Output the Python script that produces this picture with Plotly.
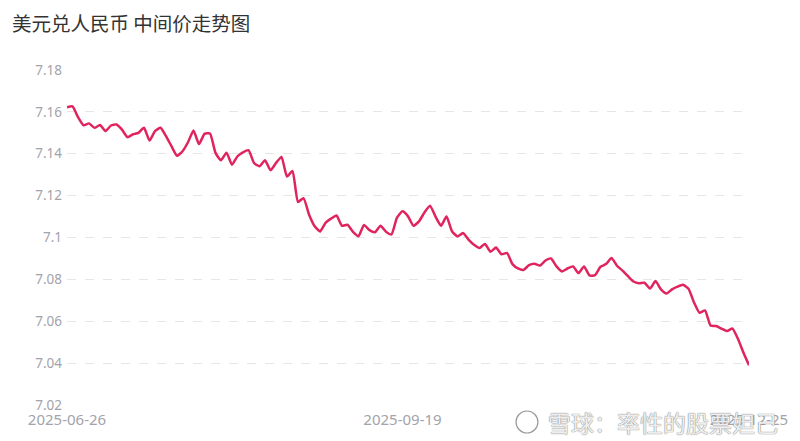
import pandas as pd
import plotly.graph_objects as go

title_text = "美元兑人民币 中间价走势图"
watermark_text = "雪球：率性的股票妲己"

holidays = ["2025-10-01", "2025-10-02", "2025-10-03", "2025-10-06", "2025-10-07", "2025-10-08"]
dates = [d.strftime("%Y-%m-%d") for d in pd.bdate_range("2025-06-26", "2025-12-25")
         if d.strftime("%Y-%m-%d") not in holidays]

rates = [
    7.1622, 7.1626, 7.1575, 7.1536, 7.1545, 7.1524, 7.1537, 7.1508, 7.1535, 7.1540,
    7.1515, 7.1479, 7.1493, 7.1500, 7.1524, 7.1463, 7.1508, 7.1524, 7.1484, 7.1436,
    7.1390, 7.1412, 7.1455, 7.1511, 7.1446, 7.1495, 7.1497, 7.1404, 7.1369, 7.1405,
    7.1348, 7.1388, 7.1407, 7.1417, 7.1356, 7.1340, 7.1369, 7.1321, 7.1356, 7.1385,
    7.1291, 7.1318, 7.1170, 7.1188, 7.1110, 7.1055, 7.1029, 7.1070, 7.1090, 7.1105,
    7.1056, 7.1061, 7.1027, 7.1006, 7.1060, 7.1035, 7.1025, 7.1056, 7.1028, 7.1015,
    7.1095, 7.1125, 7.1101, 7.1056, 7.1077, 7.1120, 7.1152, 7.1100, 7.1056, 7.1100,
    7.1030, 7.1005, 7.1021, 7.0990, 7.0965, 7.0950, 7.0969, 7.0932, 7.0952, 7.0920,
    7.0926, 7.0873, 7.0852, 7.0845, 7.0868, 7.0875, 7.0866, 7.0890, 7.0900, 7.0862,
    7.0838, 7.0852, 7.0862, 7.0830, 7.0862, 7.0819, 7.0820, 7.0860, 7.0873, 7.0902,
    7.0865, 7.0842, 7.0815, 7.0790, 7.0782, 7.0784, 7.0756, 7.0792, 7.0752, 7.0732,
    7.0752, 7.0765, 7.0774, 7.0755, 7.0690, 7.0640, 7.0652, 7.0580, 7.0577, 7.0565,
    7.0553, 7.0565, 7.0515, 7.0450, 7.0390,
]

x_tick_labels = ["2025-06-26", "2025-09-19", "2025-12-25"]
y_tick_values = [7.02, 7.04, 7.06, 7.08, 7.1, 7.12, 7.14, 7.16, 7.18]
y_tick_labels = ["7.02", "7.04", "7.06", "7.08", "7.1", "7.12", "7.14", "7.16", "7.18"]

fig = go.Figure()
fig.add_trace(go.Scatter(
    x=dates, y=rates, mode="lines",
    line=dict(color="#e0245e", width=2.5, shape="spline", smoothing=0.5),
    hoverinfo="skip", showlegend=False,
))

# page body has an 8px default margin, so the figure is 792x433 and sits at (8, 8)
fig.update_layout(
    width=792, height=433,
    margin=dict(l=59, r=48, t=62, b=36),
    paper_bgcolor="white", plot_bgcolor="white",
    font=dict(family="Noto Sans CJK SC, Noto Sans, sans-serif"),
    title=dict(text=title_text, x=4 / 792, xanchor="left", y=1 - 16 / 433, yanchor="middle",
               font=dict(size=19.5, color="#333333", family="Noto Sans CJK SC")),
    xaxis=dict(
        type="category", range=[0, len(dates) - 1],
        tickmode="array", tickvals=x_tick_labels, ticktext=x_tick_labels,
        showgrid=False, zeroline=False, showline=False, ticks="",
        tickfont=dict(size=15, color="#a3a3ab", family="Noto Sans"),
        ticklabelstandoff=4,
    ),
    yaxis=dict(
        range=[7.02, 7.18], tickmode="array", tickvals=y_tick_values, ticktext=y_tick_labels,
        showgrid=True, gridcolor="#e6e6e6", griddash="dash", gridwidth=1,
        zeroline=False, showline=False, ticks="",
        tickfont=dict(size=13.5, color="#a3a3ab", family="Noto Sans"),
        ticklabelstandoff=4,
    ),
)

fig.add_annotation(
    xref="paper", yref="paper", x=(548 - 67) / 685, y=(405 - 422) / 335,
    xanchor="left", yanchor="middle", showarrow=False,
    text=watermark_text,
    font=dict(size=23, color="rgba(255,255,255,0.9)", family="Noto Sans CJK SC",
              shadow="0 0 1px #777, 0 0 1px #777"),
)
fig.add_shape(
    type="circle", xref="paper", yref="paper",
    x0=(518 - 67) / 685, x1=(540 - 67) / 685,
    y0=(405 - 433) / 335, y1=(405 - 411) / 335,
    line=dict(color="#9a9a9a", width=1.2), fillcolor="rgba(255,255,255,0.8)",
)

fig.write_html("out.html")
